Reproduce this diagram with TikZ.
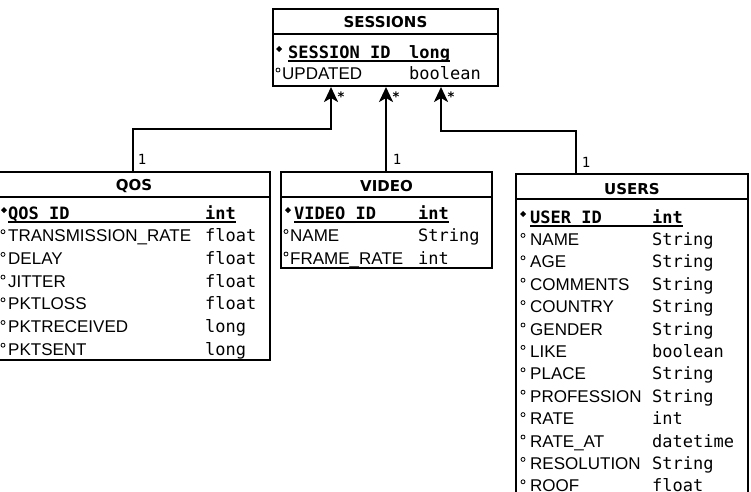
\documentclass[tikz,border=0pt]{standalone}
\usepackage{fontspec}
\setmainfont{Liberation Sans}
\newfontfamily\monof{DejaVu Sans Mono}
\newfontfamily\hdrf{DejaVu Sans}
\usetikzlibrary{arrows.meta}
\begin{document}
\begin{tikzpicture}[x=1pt,y=-1pt,
  tbl/.style={draw, line width=2pt, inner sep=0, fill=white},
  hdr/.style={font=\hdrf\bfseries\fontsize{15}{15}\selectfont, anchor=base, inner sep=0},
  nm/.style={font=\fontsize{17}{17}\selectfont, anchor=base west, inner sep=0},
  ty/.style={font=\monof\fontsize{17}{17}\selectfont, anchor=base west, inner sep=0},
  pk/.style={font=\monof\bfseries\fontsize{17}{17}\selectfont, anchor=base west, inner sep=0},
  sepline/.style={line width=2pt},
  uline/.style={line width=1.5pt},
  opt/.style={line width=0.8pt},
  conn/.style={line width=2.5pt, -{Stealth[length=15pt,width=14pt,inset=4pt]}},
  mult/.style={font=\monof\fontsize{14}{14}\selectfont, inner sep=0},
  star/.style={font=\monof\bfseries\fontsize{13}{13}\selectfont, inner sep=0}]
\useasboundingbox (0,0) rectangle (751,491);

% ---------- SESSIONS ----------
\node[tbl, minimum width=225pt, minimum height=77pt] (sessions) at (385.5,47.5) {};
\draw[sepline] (273,34) -- (498,34);
\node[hdr] (sessionsh) at (385.5,27.5) {SESSIONS};
\fill (276,49) -- (279,46) -- (282,49) -- (279,52) -- cycle;
\node[pk] (sk) at (288,58) {SESSION\_ID};
\node[pk] (skt) at (409,58) {long};
\draw[uline] ([yshift=-3pt]sk.base west) -- ([yshift=-3pt]skt.base east);
\draw[opt] (278,70) circle (2);
\node[nm] (sn2) at (282,79) {UPDATED};
\node[ty] (st2) at (409,79) {boolean};

% ---------- QOS ----------
\node[tbl, minimum width=272pt, minimum height=188pt] (qos) at (134,266) {};
\draw[sepline] (-2,197) -- (270,197);
\node[hdr] (qosh) at (134,190.5) {QOS};
\fill (1,210) -- (4,207) -- (7,210) -- (4,213) -- cycle;
\node[pk] (qk) at (8,219) {QOS\_ID};
\node[pk] (qkt) at (205,219) {int};
\draw[uline] ([yshift=-3pt]qk.base west) -- ([yshift=-3pt]qkt.base east);
\foreach \n/\t [count=\i] in {TRANSMISSION\_RATE/float, DELAY/float, JITTER/float, PKTLOSS/float, PKTRECEIVED/long, PKTSENT/long}{
  \draw[opt] (3,{213+\i*22.7-4}) circle (2);
  \node[nm] (qn\i) at (8,{219+\i*22.7}) {\n};
  \node[ty] (qt\i) at (205,{219+\i*22.7}) {\t};
}

% ---------- VIDEO ----------
\node[tbl, minimum width=211pt, minimum height=96pt] (video) at (386.5,220) {};
\draw[sepline] (281,197) -- (492,197);
\node[hdr] (videoh) at (386.5,191.5) {VIDEO};
\fill (285,210) -- (288,207) -- (291,210) -- (288,213) -- cycle;
\node[pk] (vk) at (294,219) {VIDEO\_ID};
\node[pk] (vkt) at (418,219) {int};
\draw[uline] ([yshift=-3pt]vk.base west) -- ([yshift=-3pt]vkt.base east);
\foreach \n/\t [count=\i] in {NAME/String, FRAME\_RATE/int}{
  \draw[opt] (286,{213+\i*22.5-4}) circle (2);
  \node[nm] (vn\i) at (290,{219+\i*22.5}) {\n};
  \node[ty] (vt\i) at (418,{219+\i*22.5}) {\t};
}

% ---------- USERS ----------
\node[tbl, minimum width=232pt, minimum height=346pt] (users) at (632,347) {};
\draw[sepline] (516,199) -- (748,199);
\node[hdr] (usersh) at (632,194.5) {USERS};
\fill (520,214) -- (523,211) -- (526,214) -- (523,217) -- cycle;
\node[pk] (uk) at (530,223) {USER\_ID};
\node[pk] (ukt) at (652,223) {int};
\draw[uline] ([yshift=-3pt]uk.base west) -- ([yshift=-3pt]ukt.base east);
\foreach \n/\t [count=\i] in {NAME/String, AGE/String, COMMENTS/String, COUNTRY/String, GENDER/String, LIKE/boolean, PLACE/String, PROFESSION/String, RATE/int, RATE\_AT/datetime, RESOLUTION/String, ROOF/float}{
  \draw[opt] (523,{217+\i*22.4-4}) circle (2);
  \node[nm] (un\i) at (530,{223+\i*22.4}) {\n};
  \node[ty] (ut\i) at (652,{223+\i*22.4}) {\t};
}

% ---------- connectors ----------
\coordinate (x1) at (331,0);
\coordinate (x2) at (386,0);
\coordinate (x3) at (441,0);
\coordinate (c1) at (133,129);
\coordinate (c3) at (576,131);
\draw[conn] (qos.north -| c1) -- (c1) -| (sessions.south -| x1);
\draw[conn] (video.north -| x2) -- (sessions.south -| x2);
\draw[conn] (users.north -| c3) -- (c3) -| (sessions.south -| x3);

\node[mult] (m1) at (142,159) {1};
\node[mult] (m2) at (397,159) {1};
\node[mult] (m3) at (586,162) {1};
\node[star] (s1) at (341,97) {*};
\node[star] (s2) at (396,97) {*};
\node[star] (s3) at (451,97) {*};
\end{tikzpicture}
\end{document}
